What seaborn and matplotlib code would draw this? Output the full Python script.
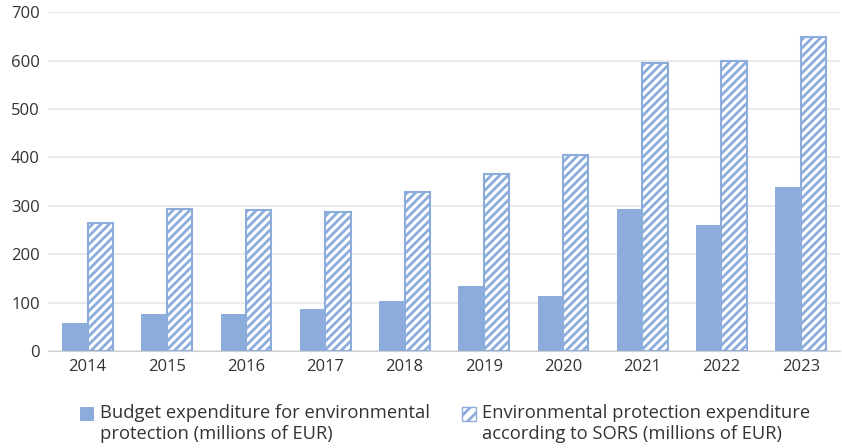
import matplotlib
matplotlib.use("Agg")
import matplotlib.pyplot as plt
import seaborn as sns
import pandas as pd
from matplotlib.patches import Patch, Rectangle
from matplotlib.legend_handler import HandlerPatch

years = ["2014", "2015", "2016", "2017", "2018", "2019", "2020", "2021", "2022", "2023"]
budget = [58, 76, 77, 87, 103, 134, 114, 293, 260, 339]
sors = [264, 293, 291, 288, 328, 365, 404, 594, 600, 649]

lab_budget = "Budget expenditure for environmental\nprotection (millions of EUR)"
lab_sors = "Environmental protection expenditure\naccording to SORS (millions of EUR)"

blue = "#8cacdb"

df = pd.DataFrame({
    "year": years * 2,
    "value": budget + sors,
    "series": [lab_budget] * len(years) + [lab_sors] * len(years),
})

sns.set_style("white")
plt.rcParams["font.family"] = ["Open Sans", "DejaVu Sans"]
plt.rcParams["hatch.color"] = blue
plt.rcParams["hatch.linewidth"] = 2.0

fig, ax = plt.subplots(figsize=(8.42, 4.48), dpi=100)
sns.barplot(data=df, x="year", y="value", hue="series", ax=ax,
            palette=[blue, blue], saturation=1, width=0.64, gap=0.0, legend=False)

n = len(years)
for i, p in enumerate(ax.patches[:2 * n]):
    if i >= n:
        p.set_facecolor("white")
        p.set_edgecolor(blue)
        p.set_hatch("////")
        p.set_linewidth(1.5)
    else:
        p.set_edgecolor("none")

ax.set_ylim(0, 700)
ax.set_yticks(range(0, 701, 100))
ax.set_xlim(-0.5, n - 0.5)
ax.yaxis.grid(True, color="#e6e6e6", linewidth=1.2)
ax.set_axisbelow(True)
for s in ["top", "right", "left"]:
    ax.spines[s].set_visible(False)
ax.spines["bottom"].set_color("#d0d0d0")
ax.set_xlabel("")
ax.set_ylabel("")
ax.tick_params(axis="both", length=0, labelsize=12, labelcolor="#333333", pad=6)


# legend squares sit on the first text line, not in the middle
def top_square(legend, orig_handle, xdescent, ydescent, width, height, fontsize):
    return Rectangle((-xdescent, -ydescent + 7), width, height)


handles = [
    Patch(facecolor=blue, edgecolor="none", label=lab_budget),
    Patch(facecolor="white", edgecolor=blue, hatch="///", label=lab_sors),
]
leg = fig.legend(handles=handles, loc="lower left", bbox_to_anchor=(0.075, -0.025), ncol=2,
                 frameon=False, fontsize=13.2, handlelength=0.8, handleheight=0.8,
                 handletextpad=0.33, columnspacing=1.7, labelspacing=0.2,
                 handler_map={Patch: HandlerPatch(patch_func=top_square)})
for t in leg.get_texts():
    t.set_color("#333333")

fig.subplots_adjust(left=0.057, right=0.998, top=0.973, bottom=0.2165)
fig.savefig("out.png", dpi=100)
